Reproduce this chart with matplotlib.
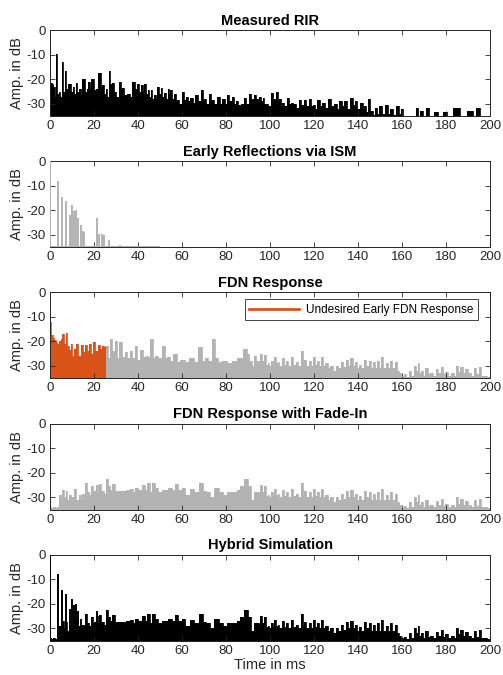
import numpy as np
import matplotlib.pyplot as plt
from matplotlib.lines import Line2D

plt.rcParams['font.family'] = ['Liberation Sans', 'DejaVu Sans']
plt.rcParams['axes.unicode_minus'] = False

# ---- data (time in ms, level in dB) ----
# measured RIR: envelope peaks / dips
rir_t = [
    0, 0.4, 1.0, 2.0, 2.6, 3.0, 3.5, 4.3, 5.0, 5.5,
    6.2, 7.0, 7.7, 8.5, 9.2, 10.0, 10.6, 11.3, 12.0, 12.8,
    13.6, 14.3, 15.0, 15.7, 16.4, 17.0, 17.7, 18.3, 19.4, 20.3,
    21.2, 22.7, 23.4, 24.0, 25.0, 25.8, 26.4, 27.0, 27.8, 28.5,
    29.5, 30.6, 31.8, 32.4, 33.0, 34.3, 35.6, 36.8, 37.9, 39.0,
    40.0, 40.8, 41.7, 42.4, 43.0, 44.0, 44.7, 45.4, 46.0, 47.0,
    47.7, 48.4, 49.0, 50.0, 50.8, 51.4, 52.0, 53.0, 53.8, 54.4,
    55.0, 56.0, 56.8, 57.4, 58.0, 59.3, 60.6, 61.3, 62.0, 63.2,
    64.4, 65.5, 66.7, 67.9, 69.0, 69.8, 70.5, 71.6, 72.7, 73.4,
    74.0, 75.2, 76.5, 77.6, 78.8, 80.0, 81.0, 82.0, 83.0, 84.0,
    85.0, 86.0, 87.3, 88.6, 89.8, 91.0, 92.0, 93.0, 94.0, 95.5,
    96.3, 97.0, 97.8, 98.5, 99.7, 100.8, 102.0, 103.0, 103.8, 104.5,
    105.3, 106.0, 107.0, 108.0, 109.0, 110.0, 111.0, 112.3, 113.6, 114.8,
    116.0, 117.0, 118.0, 119.0, 119.7, 121.0, 122.0, 123.0, 124.0, 125.5,
    127.0, 128.2, 129.5, 131.0, 132.0, 133.0, 134.0, 135.5, 137.0, 138.0,
    139.0, 140.3, 141.7, 142.4, 143.0, 144.0, 145.0, 145.8, 146.7, 147.3,
    148.0, 149.0, 150.0, 151.5, 153.0, 154.0, 155.0, 156.5, 158.0, 159.0,
    160.0, 161.0, 166.0, 166.7, 167.6, 169.0, 169.8, 172.0, 172.8, 176.0,
    176.8, 180.0, 180.6, 186.0, 186.8, 192.0, 192.6, 195.0, 195.8, 200.0]
rir_db = [
    0, -21.5, -22, -23, -27, -9.5, -26, -25, -27, -13,
    -25, -16.5, -24, -22, -21.8, -25, -23, -26, -21.5, -25,
    -24, -26, -19.8, -20, -25, -24, -21, -24, -19.8, -24.5,
    -24, -17.5, -23, -22.5, -26, -24, -27, -16.5, -22, -21.5,
    -25, -27, -21, -24, -23.5, -26.5, -26, -27, -21, -24,
    -22, -25, -22.5, -25, -22, -26, -24.5, -27, -24.5, -28,
    -26.5, -28, -23, -26, -23.5, -27, -25.5, -28, -24, -26,
    -24.5, -28, -26, -29, -28.5, -30, -25, -28.5, -27, -29,
    -27.5, -29.5, -26.5, -29, -24.5, -29, -28, -30, -26, -29,
    -28.5, -30, -27, -30, -28, -30, -26.5, -29, -27, -30,
    -29, -30.5, -30, -27.5, -30, -26, -28, -26.2, -28, -27,
    -29, -27.5, -30, -30, -31, -25.5, -28, -25, -29, -28,
    -31, -29.5, -31, -27.5, -30, -29.5, -30, -31.5, -28.3, -30.5,
    -28.5, -31, -28, -31, -30.5, -32, -28.5, -31, -29.5, -31.5,
    -28, -31, -30, -32, -29, -31, -29, -32, -27.5, -30.5,
    -29, -32, -29.5, -32, -31, -33.5, -28, -33, -33, -34.5,
    -31.5, -34, -31, -34, -30.5, -34, -32, -34.5, -31, -34,
    -32, -36, -36, -31.5, -36, -33, -36, -31.5, -36, -33.5,
    -36, -33.5, -36, -31.5, -36, -33, -36, -31.5, -36, -36]

# image source method reflections
ism_t = [0, 3.8, 5.6, 7.3, 9.0, 9.8, 11.0, 11.8, 12.9, 14.0, 14.8, 15.5,
         21.2, 22.4, 23.5, 24.5, 27.0, 31.8]
ism_db = [0, -8, -14.5, -16, -22, -18, -20.3, -20, -23, -26, -28.5, -29,
          -23, -29.5, -29.5, -30, -32, -34]
ism_end = 50

# FDN response, undesired early part (orange)
fdn_early_t = [0, 0.4, 0.8, 1.6, 2.3, 3.0, 3.8, 4.5, 5.3, 6.0,
               6.8, 7.6, 8.3, 9.1, 9.8, 10.6, 11.5, 12.4, 13.5, 14.4,
               15.4, 16.4, 17.3, 18.2, 19.1, 20.0, 21.2, 22.3, 23.3, 24.2,
               25.3]
fdn_early_db = [-5.5, -12, -17.5, -18.5, -19.5, -20.5, -21, -20, -19, -17,
                -21, -16.5, -22, -23.5, -21, -26, -23, -21, -26, -21.5,
                -24.5, -21.5, -24, -21, -25, -20.5, -24, -21.5, -23, -22,
                -22.5]
# FDN response, 25 .. 95 ms
fdn_mid_t = [25.8, 26.6, 27.7, 28.8, 30.0, 31.0, 32.0, 33.3, 34.5, 35.6,
             36.8, 37.9, 39.0, 40.2, 41.7, 42.8, 44.0, 45.1, 46.2, 47.3,
             48.5, 50.0, 51.5, 52.7, 53.8, 55.3, 56.8, 58.3, 60.3, 62.0,
             64.4, 66.4, 68.0, 69.7, 71.0, 72.7, 74.5, 75.8, 77.0, 79.5,
             81.8, 84.0, 86.4, 88.6, 90.0, 91.2, 92.4, 93.2, 94.4]
fdn_mid_db = [-22, -27, -19, -24, -20, -27, -20.5, -26.5, -24.5, -27,
              -24, -27, -22, -27.5, -23.5, -26.5, -26, -26.5, -19, -27,
              -26, -27, -22, -27, -26.5, -28, -25, -28.5, -27.5, -28.5,
              -27, -28.5, -22.5, -28, -27, -28, -19, -27, -28.5, -28,
              -29, -28, -27, -23, -25, -28, -30, -26, -28]

# FDN response with fade-in, 0 .. 95 ms
fade_t = [0, 1.0, 2.0, 3.0, 3.8, 4.5, 5.3, 6.0, 6.8, 7.6,
          8.3, 9.0, 10.0, 11.4, 12.4, 13.6, 14.3, 15.0, 15.7, 16.4,
          17.3, 18.2, 19.0, 19.8, 20.5, 21.5, 22.1, 22.7, 23.8, 25.0,
          26.0, 27.0, 27.8, 28.8, 30.3, 31.8, 33.6, 35.6, 37.0, 38.2,
          39.4, 40.9, 42.4, 43.5, 44.7, 45.8, 47.0, 48.5, 50.0, 51.5,
          53.0, 54.5, 56.0, 57.6, 59.1, 60.6, 62.4, 64.4, 66.5, 68.6,
          70.0, 72.0, 73.5, 75.8, 77.4, 79.5, 81.8, 84.0, 85.5, 87.6,
          89.0, 90.5, 92.0, 93.2, 94.4]
fade_db = [-34, -34.5, -34, -34.5, -34, -29, -31, -27, -30, -27.5,
           -31, -29, -30, -26.5, -31, -29, -31, -28.5, -31, -24,
           -28, -29, -25.5, -28, -27.5, -25, -28, -24.5, -27.5, -28.5,
           -22.5, -25.5, -27, -24.5, -27.5, -27.5, -27.5, -27, -26.5, -28,
           -26, -27, -25, -27, -24, -28, -24, -26, -28, -27,
           -27, -26, -27, -24.5, -27, -26, -29, -26.5, -28, -24,
           -27.5, -28, -30, -26, -28, -29, -28, -28, -27, -25.5,
           -22.5, -25.5, -31, -28, -28]

# late FDN tail (same in FDN, faded FDN and hybrid), 95 .. 200 ms
late_t = [95.2, 96.0, 96.8, 97.7, 98.5, 99.2, 100.0, 100.8, 101.5, 102.3,
          103.0, 103.8, 104.7, 105.7, 106.6, 107.6, 108.8, 110.0, 111.1, 112.2,
          113.3, 114.4, 115.2, 115.9, 117.0, 118.0, 119.0, 120.0, 120.8, 121.7,
          122.6, 123.5, 124.5, 125.5, 126.8, 128.0, 129.2, 130.3, 131.5, 132.6,
          133.8, 135.0, 136.0, 137.0, 138.1, 139.2, 140.0, 140.9, 142.0, 143.0,
          144.2, 145.5, 146.2, 147.0, 148.0, 149.0, 150.0, 151.0, 152.0, 153.0,
          154.0, 155.0, 156.2, 157.3, 158.2, 159.0, 160.2, 161.4, 162.5, 163.6,
          164.8, 166.0, 166.7, 167.4, 168.2, 169.0, 170.0, 171.0, 172.2, 173.5,
          174.8, 176.0, 177.0, 178.0, 179.0, 180.0, 181.5, 183.0, 184.0, 185.0,
          186.0, 187.0, 188.2, 189.4, 190.2, 191.0, 192.0, 193.0, 194.2, 195.5,
          196.5, 197.7, 199.2, 200.0]
late_db = [-28.5, -25, -28, -25.5, -29.5, -29, -30, -28, -29.5, -26.5,
           -29, -28.5, -30, -27, -29.5, -28, -30, -26.5, -29.5, -28.5,
           -30, -24, -29, -27.5, -30, -28, -30, -26.5, -29.5, -28,
           -30, -26.5, -30, -29, -31, -30, -32, -30, -31, -28.5,
           -30.5, -27.5, -30, -27, -30, -28.5, -31, -29.5, -31, -27.5,
           -30, -28, -31, -28.5, -31, -28, -31, -26.5, -31, -29,
           -31, -28, -31, -28.5, -32, -33, -34, -33.5, -34.5, -32,
           -34, -30, -32, -29, -33, -32, -34, -31, -33.5, -33,
           -34, -31.5, -33, -30.5, -33.5, -32.5, -34, -33, -34, -30,
           -32.5, -30.5, -33, -31.5, -34, -33, -34, -31, -33.5, -30.5,
           -34, -34, -34.5, -34.5]

titles = ['Measured RIR', 'Early Reflections via ISM', 'FDN Response',
          'FDN Response with Fade-In', 'Hybrid Simulation']

gray = '#b3b3b3'
orange = '#d95319'
axcol = '#262626'


def draw_ir(ax, t, db, color):
    ax.fill_between(t, db, -40, step='mid', color=color, lw=0)
    ax.plot(t, db, drawstyle='steps-mid', color=color, lw=0.6)


def draw_ism(ax, color):
    ax.vlines(ism_t, -35, ism_db, color=color, lw=1.4, zorder=3)
    ax.hlines(-35, 0, ism_end, color=color, lw=1.5, zorder=3)


fig = plt.figure(figsize=(5.03, 6.75), dpi=100)
bottoms = [0.828, 0.634, 0.44, 0.245, 0.051]
axes = [fig.add_axes([0.0994, b, 0.875, 0.127]) for b in bottoms]

fdn_t = np.array(fdn_early_t[-1:] + fdn_mid_t + late_t)
fdn_db = np.array(fdn_early_db[-1:] + fdn_mid_db + late_db)
fade_all_t = np.array(fade_t + late_t)
fade_all_db = np.array(fade_db + late_db)

draw_ir(axes[0], rir_t, rir_db, 'black')
draw_ism(axes[1], gray)
draw_ir(axes[2], fdn_t, fdn_db, gray)
draw_ir(axes[2], fdn_early_t, fdn_early_db, orange)
draw_ir(axes[3], fade_all_t, fade_all_db, gray)
draw_ir(axes[4], fade_all_t, fade_all_db, 'black')
draw_ism(axes[4], 'black')

for ax, title in zip(axes, titles):
    ax.set_xlim(0, 200)
    ax.set_ylim(-35, 0)
    ax.set_xticks(np.arange(0, 201, 20))
    ax.set_yticks([-30, -20, -10, 0])
    ax.tick_params(direction='in', top=True, right=True, length=3.5,
                   width=0.6, labelsize=9.5, color=axcol, labelcolor=axcol,
                   pad=3)
    for s in ax.spines.values():
        s.set_linewidth(0.7)
        s.set_color(axcol)
    ax.set_title(title, fontsize=10.5, fontweight='bold', pad=4)
    ax.set_ylabel('Amp. in dB', fontsize=10.5, color=axcol, labelpad=2)

axes[4].set_xlabel('Time in ms', fontsize=10.5, color=axcol, labelpad=1)

handle = Line2D([], [], color=orange, lw=2)
leg = axes[2].legend([handle], ['Undesired Early FDN Response'],
                     loc='upper right', bbox_to_anchor=(0.973, 0.921),
                     borderaxespad=0, fontsize=8.5, handlelength=4.2,
                     fancybox=False, framealpha=1, edgecolor=axcol,
                     borderpad=0.4, handletextpad=0.6)
leg.get_frame().set_linewidth(0.6)

fig.savefig('out.png', dpi=100)
